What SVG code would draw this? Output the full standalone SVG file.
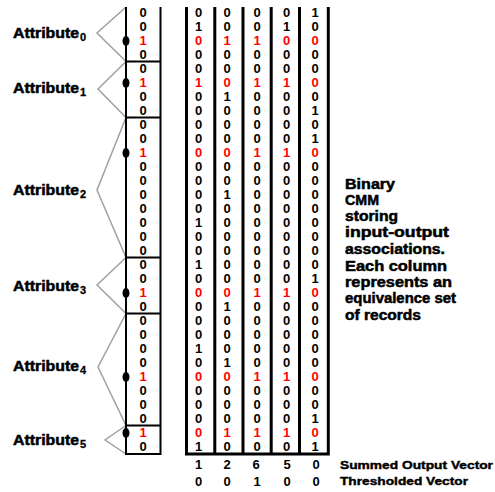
<svg xmlns="http://www.w3.org/2000/svg" width="495" height="492" viewBox="0 0 495 492">
<style>
text{font-family:"Liberation Sans",Arial,sans-serif;font-weight:bold;fill:#000}
.bit{font-size:13px;text-anchor:middle}
.red{fill:#ff0000}
.lab{font-size:14px;stroke:#000;stroke-width:0.5}
.sub{font-size:11px;stroke:#000;stroke-width:0.3}
.desc{font-size:14px;stroke:#000;stroke-width:0.5}
.foot{font-size:11px;stroke:#000;stroke-width:0.4}
.frame{stroke:#000;fill:none}
.br{stroke:#a0a0a0;stroke-width:1.5;fill:none}
</style>
<rect width="495" height="492" fill="#fff"/>
<g id="connectors">
<polyline class="br" points="126,7 97,33 126,61.5"/>
<polyline class="br" points="126,61.5 98,89 126,117.5"/>
<polyline class="br" points="126,117.5 97,190 126,257.5"/>
<polyline class="br" points="126,257.5 97,285 126,313.5"/>
<polyline class="br" points="126,313.5 98,367 126,425.5"/>
<polyline class="br" points="126,425.5 105,440 126,454"/>
</g>
<g id="attr0"><text class="lab" x="13" y="38" textLength="66" lengthAdjust="spacingAndGlyphs">Attribute</text><text class="sub" x="80" y="41">0</text></g>
<g id="attr1"><text class="lab" x="13" y="93" textLength="66" lengthAdjust="spacingAndGlyphs">Attribute</text><text class="sub" x="80" y="96">1</text></g>
<g id="attr2"><text class="lab" x="13" y="195" textLength="66" lengthAdjust="spacingAndGlyphs">Attribute</text><text class="sub" x="80" y="198">2</text></g>
<g id="attr3"><text class="lab" x="13" y="291" textLength="66" lengthAdjust="spacingAndGlyphs">Attribute</text><text class="sub" x="80" y="294">3</text></g>
<g id="attr4"><text class="lab" x="13" y="371" textLength="66" lengthAdjust="spacingAndGlyphs">Attribute</text><text class="sub" x="80" y="374">4</text></g>
<g id="attr5"><text class="lab" x="13" y="445" textLength="66" lengthAdjust="spacingAndGlyphs">Attribute</text><text class="sub" x="80" y="448">5</text></g>
<g id="input-vector">
<path class="frame" stroke-width="2" d="M126,7V454M160.5,7V455M126,61.5H161M126,117.5H161M126,257.5H161M126,313.5H161M126,425.5H161M125,454H161.5"/>
<ellipse cx="126" cy="41" rx="3.5" ry="5"/>
<ellipse cx="126" cy="83" rx="3.5" ry="5"/>
<ellipse cx="126" cy="153" rx="3.5" ry="5"/>
<ellipse cx="126" cy="293" rx="3.5" ry="5"/>
<ellipse cx="126" cy="377" rx="3.5" ry="5"/>
<ellipse cx="126" cy="433" rx="3.5" ry="5"/>
<text class="bit" x="143" y="17">0</text>
<text class="bit" x="143" y="31">0</text>
<text class="bit red" x="143" y="45">1</text>
<text class="bit" x="143" y="59">0</text>
<text class="bit" x="143" y="73">0</text>
<text class="bit red" x="143" y="87">1</text>
<text class="bit" x="143" y="101">0</text>
<text class="bit" x="143" y="115">0</text>
<text class="bit" x="143" y="129">0</text>
<text class="bit" x="143" y="143">0</text>
<text class="bit red" x="143" y="157">1</text>
<text class="bit" x="143" y="171">0</text>
<text class="bit" x="143" y="185">0</text>
<text class="bit" x="143" y="199">0</text>
<text class="bit" x="143" y="213">0</text>
<text class="bit" x="143" y="227">0</text>
<text class="bit" x="143" y="241">0</text>
<text class="bit" x="143" y="255">0</text>
<text class="bit" x="143" y="269">0</text>
<text class="bit" x="143" y="283">0</text>
<text class="bit red" x="143" y="297">1</text>
<text class="bit" x="143" y="311">0</text>
<text class="bit" x="143" y="325">0</text>
<text class="bit" x="143" y="339">0</text>
<text class="bit" x="143" y="353">0</text>
<text class="bit" x="143" y="367">0</text>
<text class="bit red" x="143" y="381">1</text>
<text class="bit" x="143" y="395">0</text>
<text class="bit" x="143" y="409">0</text>
<text class="bit" x="143" y="423">0</text>
<text class="bit red" x="143" y="437">1</text>
<text class="bit" x="143" y="451">0</text>
</g>
<g id="cmm-matrix">
<path class="frame" stroke-width="3" d="M186.5,7V455M214.8,7V455M243,7V455M271.2,7V455M299.5,7V455M328.3,7V455M185,454H329.8"/>
<text class="bit" x="198.5 227 257 286.5 315" y="17">00001</text>
<text class="bit" x="198.5 227 257 286.5 315" y="31">10010</text>
<text class="bit red" x="198.5 227 257 286.5 315" y="45">01100</text>
<text class="bit" x="198.5 227 257 286.5 315" y="59">00000</text>
<text class="bit" x="198.5 227 257 286.5 315" y="73">00000</text>
<text class="bit red" x="198.5 227 257 286.5 315" y="87">10110</text>
<text class="bit" x="198.5 227 257 286.5 315" y="101">01000</text>
<text class="bit" x="198.5 227 257 286.5 315" y="115">00001</text>
<text class="bit" x="198.5 227 257 286.5 315" y="129">00000</text>
<text class="bit" x="198.5 227 257 286.5 315" y="143">00001</text>
<text class="bit red" x="198.5 227 257 286.5 315" y="157">00110</text>
<text class="bit" x="198.5 227 257 286.5 315" y="171">00000</text>
<text class="bit" x="198.5 227 257 286.5 315" y="185">00000</text>
<text class="bit" x="198.5 227 257 286.5 315" y="199">01000</text>
<text class="bit" x="198.5 227 257 286.5 315" y="213">00000</text>
<text class="bit" x="198.5 227 257 286.5 315" y="227">10000</text>
<text class="bit" x="198.5 227 257 286.5 315" y="241">00000</text>
<text class="bit" x="198.5 227 257 286.5 315" y="255">00000</text>
<text class="bit" x="198.5 227 257 286.5 315" y="269">10000</text>
<text class="bit" x="198.5 227 257 286.5 315" y="283">00001</text>
<text class="bit red" x="198.5 227 257 286.5 315" y="297">00110</text>
<text class="bit" x="198.5 227 257 286.5 315" y="311">01000</text>
<text class="bit" x="198.5 227 257 286.5 315" y="325">00000</text>
<text class="bit" x="198.5 227 257 286.5 315" y="339">00000</text>
<text class="bit" x="198.5 227 257 286.5 315" y="353">10000</text>
<text class="bit" x="198.5 227 257 286.5 315" y="367">01000</text>
<text class="bit red" x="198.5 227 257 286.5 315" y="381">00110</text>
<text class="bit" x="198.5 227 257 286.5 315" y="395">00000</text>
<text class="bit" x="198.5 227 257 286.5 315" y="409">00000</text>
<text class="bit" x="198.5 227 257 286.5 315" y="423">00001</text>
<text class="bit red" x="198.5 227 257 286.5 315" y="437">01110</text>
<text class="bit" x="198.5 227 257 286.5 315" y="451">10001</text>
</g>
<g id="summed-output">
<text class="bit" x="198.5 227 256 287 316" y="469">12650</text>
<text class="foot" x="340" y="469" textLength="153" lengthAdjust="spacingAndGlyphs">Summed Output Vector</text>
</g>
<g id="thresholded-output">
<text class="bit" x="198.5 227 257 287 316" y="486">00100</text>
<text class="foot" x="340" y="485" textLength="128" lengthAdjust="spacingAndGlyphs">Thresholded Vector</text>
</g>
<g id="description">
<text class="desc" x="345" y="189" textLength="50" lengthAdjust="spacingAndGlyphs">Binary</text>
<text class="desc" x="345" y="205" textLength="34" lengthAdjust="spacingAndGlyphs">CMM</text>
<text class="desc" x="345" y="221" textLength="53" lengthAdjust="spacingAndGlyphs">storing</text>
<text class="desc" x="345" y="237" textLength="104" lengthAdjust="spacingAndGlyphs">input-output</text>
<text class="desc" x="345" y="254" textLength="100" lengthAdjust="spacingAndGlyphs">associations.</text>
<text class="desc" x="345" y="271" textLength="102" lengthAdjust="spacingAndGlyphs">Each column</text>
<text class="desc" x="345" y="287" textLength="107" lengthAdjust="spacingAndGlyphs">represents an</text>
<text class="desc" x="345" y="303" textLength="111" lengthAdjust="spacingAndGlyphs">equivalence set</text>
<text class="desc" x="345" y="320" textLength="76" lengthAdjust="spacingAndGlyphs">of records</text>
</g>
</svg>
